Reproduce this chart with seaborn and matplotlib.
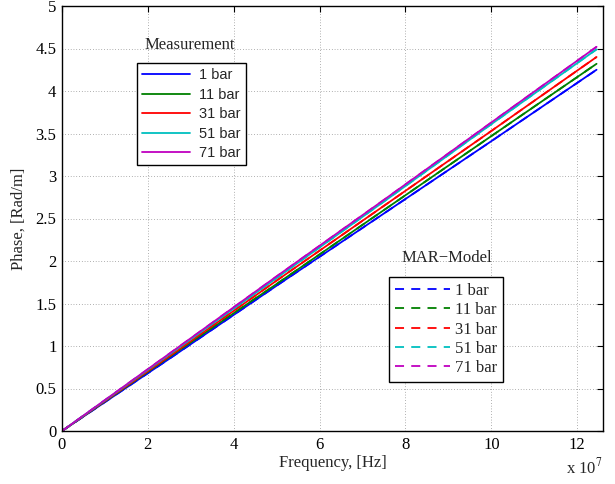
import numpy as np
import pandas as pd
import matplotlib
matplotlib.use("Agg")
import matplotlib.pyplot as plt
from matplotlib.ticker import FuncFormatter, MultipleLocator
from matplotlib.lines import Line2D
import seaborn as sns

# Phase per metre versus frequency, measured and MAR-model, for five pressures
freq_hz = [0.0, 2.5e7, 5.0e7, 7.5e7, 10.0e7, 12.45e7]
pressures = ["1 bar", "11 bar", "31 bar", "51 bar", "71 bar"]
meas_1bar = [0.0, 0.85, 1.71, 2.56, 3.41, 4.25]
meas_11bar = [0.0, 0.87, 1.73, 2.60, 3.47, 4.32]
meas_31bar = [0.0, 0.88, 1.77, 2.65, 3.53, 4.40]
meas_51bar = [0.0, 0.90, 1.80, 2.70, 3.61, 4.49]
meas_71bar = [0.0, 0.91, 1.82, 2.72, 3.63, 4.52]
model_1bar = [0.0, 0.85, 1.71, 2.56, 3.41, 4.25]
model_11bar = [0.0, 0.87, 1.73, 2.60, 3.47, 4.32]
model_31bar = [0.0, 0.88, 1.77, 2.65, 3.53, 4.40]
model_51bar = [0.0, 0.90, 1.80, 2.70, 3.61, 4.49]
model_71bar = [0.0, 0.91, 1.82, 2.72, 3.63, 4.52]

colors = ["#0000ff", "#008000", "#ff0000", "#00bfbf", "#bf00bf"]

meas = [meas_1bar, meas_11bar, meas_31bar, meas_51bar, meas_71bar]
model = [model_1bar, model_11bar, model_31bar, model_51bar, model_71bar]

rows = []
for p, m, d in zip(pressures, meas, model):
    for f, a, b in zip(freq_hz, m, d):
        rows.append({"freq": f, "phase": a, "pressure": p, "kind": "Measurement"})
        rows.append({"freq": f, "phase": b, "pressure": p, "kind": "MAR-Model"})
df = pd.DataFrame(rows)

sns.set_style("white")
serif = ["Liberation Serif", "DejaVu Serif"]
sans = ["Liberation Sans", "DejaVu Sans"]
plt.rcParams["font.family"] = serif
plt.rcParams["mathtext.fontset"] = "stix"

fig = plt.figure(figsize=(6.15, 4.84), dpi=100)
ax = fig.add_axes([62 / 615, 53 / 484, 541 / 615, 425 / 484])

LW = 1.3
DASH = (0, (5, 4))
palette = dict(zip(pressures, colors))
sns.lineplot(data=df[df.kind == "Measurement"], x="freq", y="phase",
             hue="pressure", palette=palette, ax=ax, lw=LW,
             legend=False, estimator=None, sort=False)
sns.lineplot(data=df[df.kind == "MAR-Model"], x="freq", y="phase",
             hue="pressure", palette=palette, ax=ax, lw=LW,
             legend=False, estimator=None, sort=False, dashes=False)
for line in ax.get_lines()[5:]:
    line.set_linestyle(DASH)

ax.set_xlim(0, 1.26e8)
ax.set_ylim(0, 5)
ax.xaxis.set_major_locator(MultipleLocator(2e7))
ax.yaxis.set_major_locator(MultipleLocator(0.5))
ax.xaxis.set_major_formatter(FuncFormatter(lambda v, _: f"{v / 1e7:g}"))
ax.yaxis.set_major_formatter(FuncFormatter(lambda v, _: f"{v:g}"))
ax.grid(True, color="black", linestyle=(0, (1, 3)), linewidth=0.5, alpha=0.6)
ax.tick_params(direction="in", length=4, width=0.8, top=True, right=True,
               labelsize=12, colors="black", pad=4)
for s in ax.spines.values():
    s.set_visible(True)
    s.set_color("black")
    s.set_linewidth(1.0)

ax.set_xlabel("Frequency, [Hz]", fontsize=12, labelpad=2)
ax.set_ylabel("Phase, [Rad/m]", fontsize=12, labelpad=6)
ax.text(1.0, -0.063, r"x 10$^{7}$", transform=ax.transAxes, ha="right",
        va="top", fontsize=12)

h_meas = [Line2D([], [], color=c, lw=LW) for c in colors]
h_model = [Line2D([], [], color=c, lw=LW, linestyle=DASH) for c in colors]

leg1 = ax.legend(h_meas, pressures, loc="upper left",
                 bbox_to_anchor=(75 / 541, 1 - 57 / 425), frameon=True,
                 fancybox=False, edgecolor="black", framealpha=1,
                 prop={"family": sans, "size": 10.5}, handlelength=3.3,
                 labelspacing=0.38, borderpad=0.35, handletextpad=0.6,
                 borderaxespad=0)
leg1.get_frame().set_linewidth(1.0)
ax.add_artist(leg1)
ax.text((190 - 62) / 541, 1 - (45 - 6) / 425, "Measurement",
        transform=ax.transAxes, ha="center", va="center", fontsize=12)

leg2 = ax.legend(h_model, pressures, loc="upper left",
                 bbox_to_anchor=((389 - 62) / 541, 1 - (277 - 6) / 425),
                 frameon=True, fancybox=False, edgecolor="black",
                 framealpha=1, prop={"family": serif, "size": 12},
                 handlelength=3.3, labelspacing=0.2, borderpad=0.35,
                 handletextpad=0.3, borderaxespad=0)
leg2.get_frame().set_linewidth(1.0)
ax.text((447 - 62) / 541, 1 - (258 - 6) / 425, "MAR\u2212Model",
        transform=ax.transAxes, ha="center", va="center", fontsize=12)

fig.savefig("out.png", dpi=100)
